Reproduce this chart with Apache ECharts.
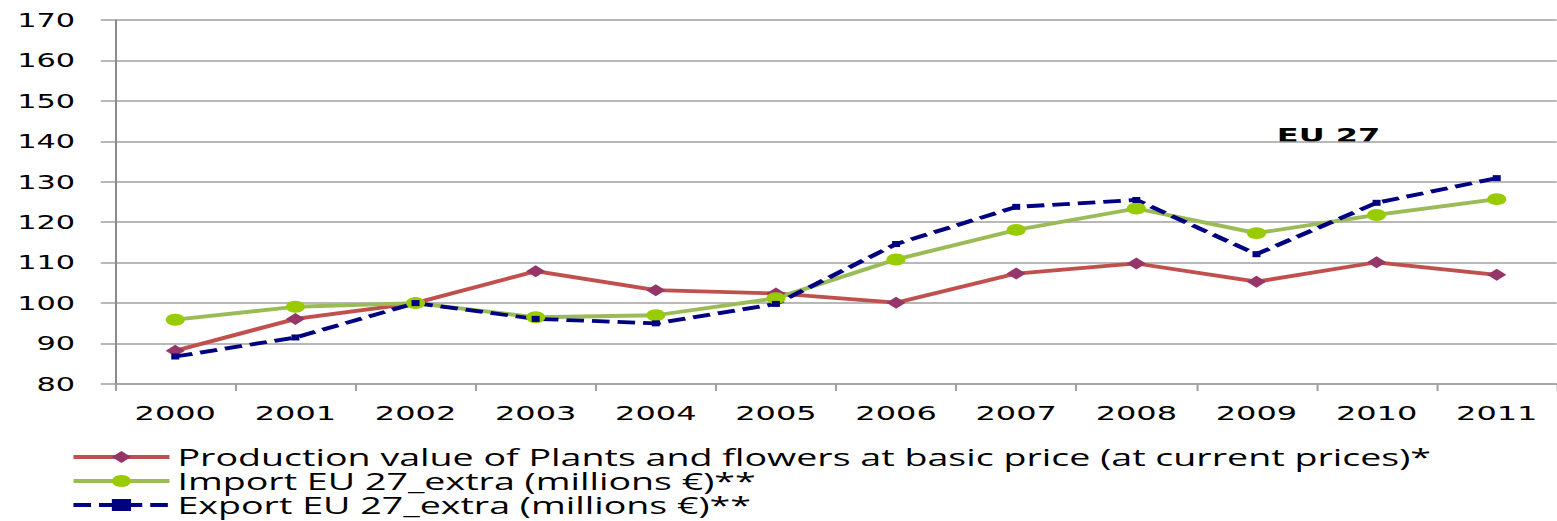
<!DOCTYPE html>
<html>
<head>
<meta charset="utf-8">
<script src="https://cdn.jsdelivr.net/npm/echarts@6/dist/echarts.min.js"></script>
<style>
  html, body { margin: 0; padding: 0; background: #fff; overflow: hidden; }
  #main { width: 973px; height: 521px; transform: scaleX(1.6); transform-origin: 0 0; }
</style>
</head>
<body>
<div id="main"></div>
<script>
const years = ['2000','2001','2002','2003','2004','2005','2006','2007','2008','2009','2010','2011'];
const production = [88.2, 96.1, 100, 107.9, 103.2, 102.4, 100.1, 107.3, 109.8, 105.3, 110.1, 107.0];
const imports = [95.9, 99.1, 100, 96.5, 97.0, 101.2, 110.8, 118.1, 123.4, 117.3, 121.8, 125.7];
const exports_ = [86.8, 91.5, 100, 96.1, 95.0, 99.8, 114.6, 123.8, 125.5, 112.1, 124.8, 130.9];
const seriesNames = [
  'Production value of Plants and flowers at basic price (at current prices)*',
  'Import EU 27_extra (millions €)**',
  'Export EU 27_extra (millions €)**'
];
const annotation = 'EU 27';

const chart = echarts.init(document.getElementById('main'), null, { renderer: 'svg' });
const axisGray = '#A0A0A0';
chart.setOption({
  animation: false,
  backgroundColor: '#fff',
  grid: { left: 72, right: 0, top: 20, bottom: 137, containLabel: false },
  xAxis: {
    type: 'category',
    data: years,
    boundaryGap: true,
    axisLine: { show: true, lineStyle: { color: axisGray, width: 1.5 } },
    axisTick: { show: true, length: 7, lineStyle: { color: axisGray, width: 1.3 } },
    axisLabel: { color: '#000', fontFamily: 'DejaVu Sans', fontSize: 20, margin: 19 },
    splitLine: { show: false }
  },
  yAxis: {
    type: 'value',
    min: 80, max: 170, interval: 10,
    axisLine: { show: true, lineStyle: { color: '#8C8C8C', width: 1.3 } },
    axisTick: { show: true, length: 9, lineStyle: { color: axisGray, width: 1.5 } },
    axisLabel: { color: '#000', fontFamily: 'DejaVu Sans', fontSize: 19, margin: 25 },
    splitLine: { show: true, lineStyle: { color: axisGray, width: 1.5 } }
  },
  legend: {
    orient: 'vertical',
    left: 44, top: 445,
    width: 900, height: 200,
    padding: 0,
    itemWidth: 60, itemHeight: 15, itemGap: 0,
    lineStyle: { width: 3.8 },
    textStyle: { color: '#000', fontFamily: 'Open Sans', fontSize: 23.5, lineHeight: 24 },
    data: seriesNames
  },
  graphic: [{
    type: 'text',
    left: 798, top: 125,
    style: { text: annotation, fill: '#000', font: 'bold 20px "DejaVu Sans"' }
  }],
  series: [
    {
      name: seriesNames[0], type: 'line', data: production,
      symbol: 'diamond', symbolSize: 12,
      lineStyle: { color: '#C0504D', width: 3.8 },
      itemStyle: { color: '#953568' }
    },
    {
      name: seriesNames[1], type: 'line', data: imports,
      symbol: 'circle', symbolSize: 12,
      lineStyle: { color: '#9BBB59', width: 3.8 },
      itemStyle: { color: '#99CC00' }
    },
    {
      name: seriesNames[2], type: 'line', data: exports_,
      symbol: 'rect', symbolSize: [5, 6],
      lineStyle: { color: '#000080', width: 3.8, type: [11, 5] },
      itemStyle: { color: '#000080' }
    }
  ]
});
</script>
</body>
</html>
